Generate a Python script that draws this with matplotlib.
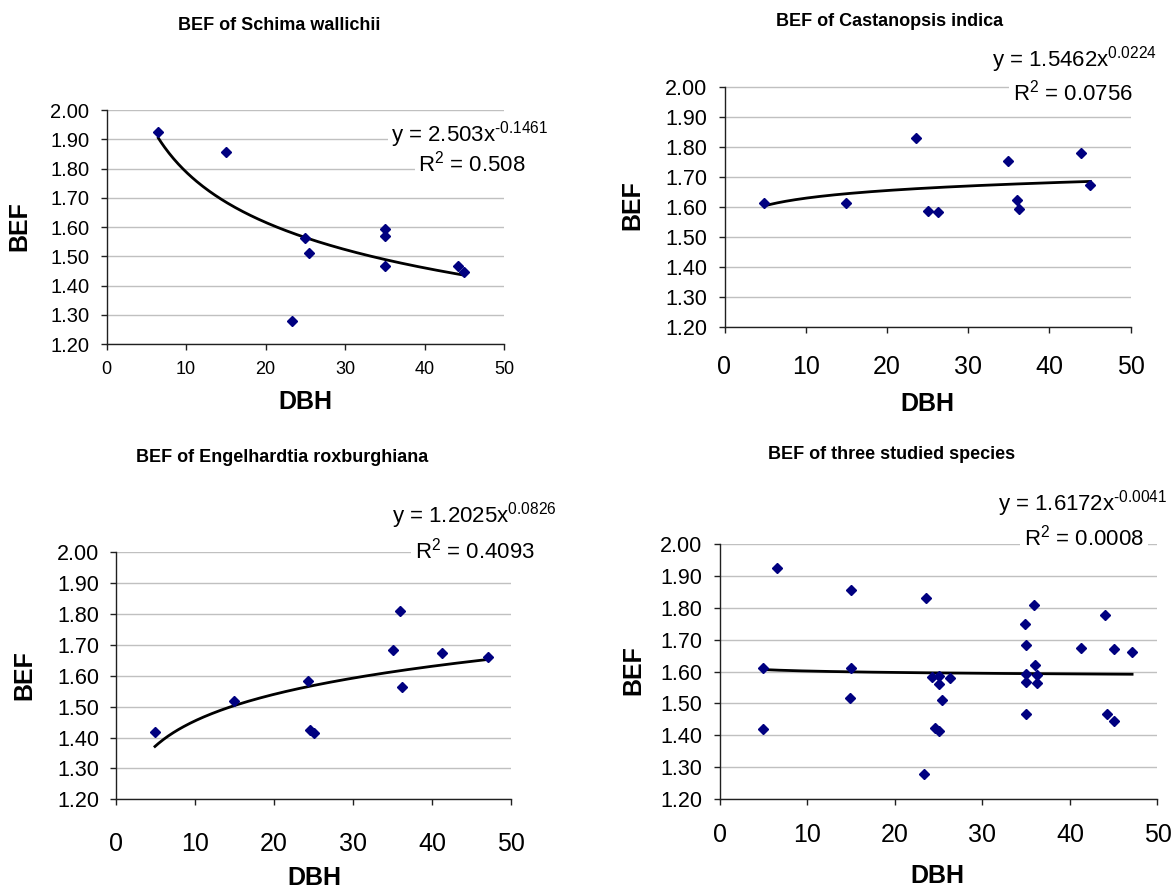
import matplotlib
matplotlib.use("Agg")
import matplotlib.pyplot as plt
import numpy as np

plt.rcParams["font.family"] = ["Liberation Sans", "DejaVu Sans"]
plt.rcParams["mathtext.fontset"] = "custom"
plt.rcParams["mathtext.rm"] = "Liberation Sans"
plt.rcParams["mathtext.default"] = "regular"

# Schima wallichii
dbh_sw = [6.5, 15.0, 25.0, 25.4, 23.3, 35.0, 35.0, 35.0, 44.2, 45.0]
bef_sw = [1.926, 1.858, 1.561, 1.512, 1.279, 1.594, 1.569, 1.466, 1.467, 1.445]

# Castanopsis indica
dbh_ci = [4.9, 15.0, 23.55, 25.05, 26.35, 34.9, 36.05, 36.25, 43.95, 45.05]
bef_ci = [1.613, 1.613, 1.830, 1.586, 1.581, 1.751, 1.621, 1.591, 1.777, 1.671]

# Engelhardtia roxburghiana
dbh_er = [4.9, 14.9, 24.3, 24.6, 25.0, 35.0, 35.9, 36.2, 41.3, 47.1]
bef_er = [1.419, 1.518, 1.583, 1.424, 1.414, 1.684, 1.810, 1.563, 1.673, 1.661]

# all three species together
dbh_all = dbh_sw + dbh_ci + dbh_er
bef_all = bef_sw + bef_ci + bef_er

# power trendlines y = a * x^b as printed on the chart
titles = ["BEF of Schima wallichii", "BEF of Castanopsis indica",
          "BEF of Engelhardtia roxburghiana", "BEF of three studied species"]
coef_a = [2.503, 1.5462, 1.2025, 1.6172]
coef_b = [-0.1461, 0.0224, 0.0826, -0.0041]
coef_txt = ["2.503", "1.5462", "1.2025", "1.6172"]
exp_txt = ["-0.1461", "0.0224", "0.0826", "-0.0041"]
r2_txt = ["0.508", "0.0756", "0.4093", "0.0008"]
series = [(dbh_sw, bef_sw), (dbh_ci, bef_ci), (dbh_er, bef_er), (dbh_all, bef_all)]

W, H = 1173, 888
fig = plt.figure(figsize=(W / 100, H / 100), dpi=100)


def fx(x):
    return x / W


def fy(y):
    return 1 - y / H


# layout in pixels: axes box (left, top, right, bottom), title, eq lines, labels
boxes = [(106.7, 110, 504, 344), (724.5, 86.5, 1130.5, 326.7),
         (116.3, 552.3, 511, 799.3), (719.6, 544.3, 1157.5, 799)]
title_pos = [(279, 26), (890, 22), (282, 457), (892, 454)]
eq_pos = [(470, 135), (1074, 60), (474, 516), (1083, 504)]
r2_pos = [(472, 164), (1073, 93), (475, 551), (1084, 538)]
ylab_pos = [(19, 226), (632, 205), (24, 675), (633, 670)]
xlab_pos = [(305, 402), (927, 404), (314, 878), (937, 876)]
ytick_size = [14.5, 15.5, 15.5, 15.5]
xtick_size = [13, 18, 18, 18]
xtick_pad = [8.2, 16.3, 19.5, 13.6]

for i in range(4):
    l, t, r, b = boxes[i]
    ax = fig.add_axes([fx(l), fy(b), (r - l) / W, (b - t) / H])
    x, y = series[i]
    ax.set_xlim(0, 50)
    ax.set_ylim(1.2, 2.0)
    ax.set_xticks(np.arange(0, 51, 10))
    ax.set_yticks(np.arange(1.2, 2.01, 0.1))
    ax.set_yticklabels(["%.2f" % v for v in np.arange(1.2, 2.01, 0.1)])
    ax.grid(axis="y", color="#c0c0c0", lw=1)
    ax.set_axisbelow(True)
    for s in ["top", "right"]:
        ax.spines[s].set_visible(False)
    for s in ["left", "bottom"]:
        ax.spines[s].set_color("#202020")
        ax.spines[s].set_linewidth(1)
    ax.tick_params(axis="y", direction="out", length=4, width=1, pad=8.5,
                   labelsize=ytick_size[i], color="#202020")
    ax.tick_params(axis="x", direction="out", length=4, width=1, pad=xtick_pad[i],
                   labelsize=xtick_size[i], color="#202020")

    xs = np.linspace(min(x), max(x), 200)
    ax.plot(xs, coef_a[i] * xs ** coef_b[i], color="black", lw=2.0, zorder=2)
    ax.plot(x, y, ls="none", marker="D", ms=5.6, color="#000080",
            mec="#000080", zorder=3, clip_on=False)

    fig.text(fx(title_pos[i][0]), fy(title_pos[i][1]), titles[i],
             ha="center", va="center", fontsize=13, fontweight="bold")
    fig.text(fx(ylab_pos[i][0]), fy(ylab_pos[i][1]), "BEF", rotation=90,
             ha="center", va="center", fontsize=18, fontweight="bold")
    fig.text(fx(xlab_pos[i][0]), fy(xlab_pos[i][1]), "DBH",
             ha="center", va="center", fontsize=18, fontweight="bold")
    box = dict(fc="white", ec="none", pad=2.5)
    fig.text(fx(eq_pos[i][0]), fy(eq_pos[i][1]),
             "y = " + coef_txt[i] + "x$^{\\text{" + exp_txt[i] + "}}$",
             ha="center", va="center", fontsize=16, bbox=box, zorder=5)
    fig.text(fx(r2_pos[i][0]), fy(r2_pos[i][1]), "R$^{2}$ = " + r2_txt[i],
             ha="center", va="center", fontsize=16, bbox=box, zorder=5)

fig.savefig("out.png", dpi=100, facecolor="white")
